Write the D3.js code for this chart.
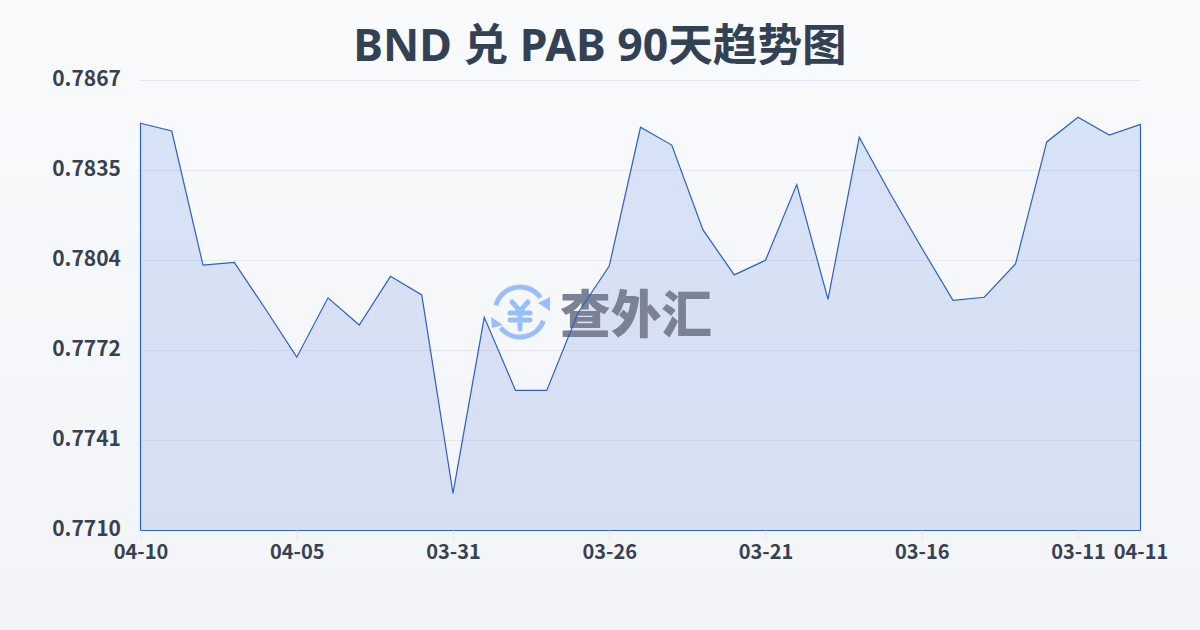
<!DOCTYPE html>
<html lang="zh">
<head>
<meta charset="utf-8">
<script src="https://cdn.jsdelivr.net/npm/d3@7"></script>
<style>
html,body{margin:0;padding:0;width:1200px;height:630px;overflow:hidden;background:#f8fafc}
svg{display:block}
</style>
</head>
<body>
<svg id="chart" width="1200" height="630"></svg>
<script>
const titleText = "BND 兑 PAB 90天趋势图";
const watermarkText = "查外汇";
const dates = ["04-10","04-09","04-08","04-07","04-06","04-05","04-04","04-03","04-02","04-01","03-31","03-30","03-29","03-28","03-27","03-26","03-25","03-24","03-23","03-22","03-21","03-20","03-19","03-18","03-17","03-16","03-15","03-14","03-13","03-12","03-11","03-10","04-11"];
const rates = [0.78519,0.78492,0.78024,0.78034,0.77871,0.77703,0.77910,0.77815,0.77985,0.77920,0.77228,0.77842,0.77587,0.77587,0.77857,0.78021,0.78505,0.78443,0.78147,0.77990,0.78041,0.78305,0.77905,0.78470,0.78272,0.78084,0.77901,0.77912,0.78028,0.78454,0.78540,0.78478,0.78515];
const xTickDates = ["04-10","04-05","03-31","03-26","03-21","03-16","03-11","04-11"];
const yTickValues = [0.7867,0.78356,0.78042,0.77728,0.77414,0.7710];
const yTickLabels = ["0.7867","0.7835","0.7804","0.7772","0.7741","0.7710"];
const FONT = "'Noto Sans','Noto Sans CJK SC'";
const TICKFONT = "'Noto Sans CJK SC'";

const svg = d3.select("#chart");
const defs = svg.append("defs");
const bg = defs.append("linearGradient").attr("id","bg").attr("x1",0).attr("y1",0).attr("x2",0).attr("y2",1);
bg.append("stop").attr("offset","0%").attr("stop-color","#f8fafc");
bg.append("stop").attr("offset","100%").attr("stop-color","#f2f4f7");
const fillG = defs.append("linearGradient").attr("id","fillG").attr("gradientUnits","userSpaceOnUse")
  .attr("x1",0).attr("y1",117).attr("x2",0).attr("y2",530);
fillG.append("stop").attr("offset","0%").attr("stop-color","#2f6fdc").attr("stop-opacity",0.16);
fillG.append("stop").attr("offset","100%").attr("stop-color","#2a55d0").attr("stop-opacity",0.14);

svg.append("rect").attr("width",1200).attr("height",630).attr("fill","url(#bg)");

const x = d3.scalePoint().domain(dates).range([140.5,1140.5]);
const y = d3.scaleLinear().domain([0.7710,0.7867]).range([530,80]);

// y axis and grid
const yAxis = svg.append("g").attr("transform","translate(140,0)")
  .call(d3.axisLeft(y).tickValues(yTickValues).tickSize(0).tickPadding(19)
    .tickFormat((d,i)=>yTickLabels[i]));
yAxis.select(".domain").remove();
yAxis.selectAll("text").attr("font-family",TICKFONT).attr("font-weight",700)
  .attr("font-size",21).attr("fill","#374151").attr("dy","0.24em");
svg.append("g").selectAll("line").data(yTickValues).join("line")
  .attr("x1",140).attr("x2",1140.5)
  .attr("y1",d=>Math.round(y(d))+0.5).attr("y2",d=>Math.round(y(d))+0.5)
  .attr("stroke","#e3e7ee").attr("stroke-width",1);

// area
const area = d3.area().x(d=>x(d.date)).y0(y(0.7710)+0.5).y1(d=>y(d.rate));
const pts = dates.map((date,i)=>({date,rate:rates[i]}));
svg.append("path").datum(pts).attr("d",area).attr("fill","url(#fillG)");

// watermark (between fill and line)
const wm = svg.append("g");
const logo = wm.append("g").attr("transform","translate(520,312)")
  .attr("fill","none").attr("stroke","#98bff8").attr("stroke-linecap","round");
const arc = d3.arc().innerRadius(25).outerRadius(25);
logo.append("path").attr("stroke-width",5).attr("d",arc({startAngle:-1.3,endAngle:0.96}));
logo.append("path").attr("stroke-width",5).attr("d",arc({startAngle:1.93,endAngle:4.03}));
logo.append("path").attr("fill","#98bff8").attr("stroke","none").attr("d","M30,-15 V-1 L18,-9 Z");
logo.append("path").attr("fill","#98bff8").attr("stroke","none").attr("d","M-29,5 L-17,13 L-28,16 Z");
logo.append("path").attr("stroke-width",5).attr("d","M-8,-10 L0,-1 L8,-10 M0,-1 V17 M-10,1 H10 M-10,8 H10");
wm.append("text").text(watermarkText).attr("x",560).attr("y",333)
  .attr("font-family","'Noto Sans CJK SC'").attr("font-weight",900).attr("font-size",51)
  .attr("fill","#7a8294").attr("textLength",152).attr("lengthAdjust","spacingAndGlyphs");

// outline
svg.append("path").datum(pts).attr("d",area).attr("fill","none")
  .attr("stroke","#2c5fc8").attr("stroke-width",1.2);

// x axis
const xAxis = svg.append("g").attr("transform","translate(0,530.5)")
  .call(d3.axisBottom(x).tickValues(xTickDates).tickSize(10).tickPadding(4));
xAxis.select(".domain").remove();
xAxis.selectAll("line").attr("stroke","#e3e7ee");
xAxis.selectAll("text").attr("font-family",TICKFONT).attr("font-weight",700)
  .attr("font-size",20).attr("fill","#374151");

// title
svg.append("text").text(titleText).attr("x",600).attr("y",60.5).attr("text-anchor","middle")
  .attr("font-family",FONT).attr("font-weight",700).attr("font-size",44.6)
  .attr("fill","#334155");
</script>
</body>
</html>
